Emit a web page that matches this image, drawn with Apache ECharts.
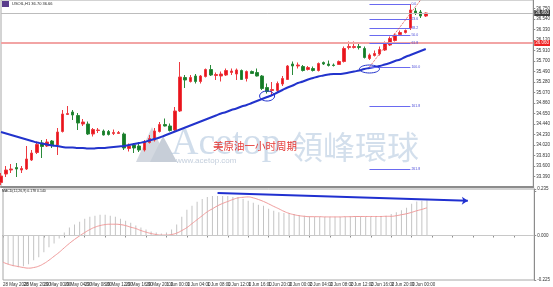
<!DOCTYPE html>
<html><head><meta charset="utf-8">
<script src="https://cdn.jsdelivr.net/npm/echarts@6/dist/echarts.min.js"></script>
<style>html,body{margin:0;padding:0;background:#fff}#c{width:553px;height:287px}</style>
</head><body><div id="c"></div>
<script>
// ---- data ----
const tickLabels = ['28 May 2020','28 May 20:00','29 May 00:00','29 May 04:00','29 May 08:00','29 May 12:00','29 May 16:00','29 May 20:00','1 Jun 00:00','1 Jun 04:00','1 Jun 08:00','1 Jun 12:00','1 Jun 16:00','1 Jun 20:00','2 Jun 00:00','2 Jun 04:00','2 Jun 08:00','2 Jun 12:00','2 Jun 16:00','2 Jun 20:00','3 Jun 00:00'];
const opens = [33.27,33.44,33.52,33.57,33.52,33.54,33.72,33.87,34.06,34.00,
34.10,34.02,34.29,34.63,34.68,34.61,34.44,34.44,34.24,34.31,
34.30,34.29,34.25,34.25,34.24,33.95,34.02,34.00,33.92,34.07,
34.12,34.29,34.43,34.40,34.32,34.70,35.37,35.29,35.40,35.29,
35.39,35.53,35.41,35.40,35.42,35.47,35.44,35.51,35.35,35.49,
35.47,35.40,35.17,35.11,35.11,35.24,35.33,35.64,35.60,35.59,
35.53,35.55,35.51,35.67,35.64,35.62,35.63,35.69,35.97,35.97,
35.99,35.95,35.75,35.81,35.84,35.92,36.02,36.11,36.23,36.27,
36.36,36.70,36.68,36.60];
const closes = [33.40,33.52,33.54,33.54,33.55,33.74,33.86,34.03,33.99,34.08,
34.02,34.28,34.64,34.65,34.62,34.46,34.48,34.24,34.33,34.32,
34.22,34.23,34.27,34.27,33.96,34.00,33.96,33.92,34.08,34.15,
34.30,34.43,34.40,34.31,34.70,35.38,35.32,35.37,35.29,35.40,
35.53,35.42,35.43,35.44,35.51,35.50,35.52,35.33,35.49,35.45,
35.40,35.15,35.09,35.13,35.25,35.35,35.60,35.60,35.62,35.51,
35.57,35.51,35.65,35.64,35.61,35.61,35.69,35.95,35.99,35.99,
35.97,35.77,35.82,35.85,35.93,36.05,36.15,36.22,36.27,36.31,
36.72,36.66,36.60,36.66];
const lows = [33.22,33.38,33.46,33.38,33.46,33.52,33.70,33.84,33.76,33.98,
33.96,33.82,34.27,34.62,34.52,34.32,34.40,34.22,34.19,34.26,
34.21,34.21,34.22,34.24,33.92,33.89,33.86,33.88,33.89,34.05,
34.09,34.27,34.39,34.29,34.30,34.68,35.16,35.27,35.25,35.25,
35.37,35.40,35.32,35.29,35.40,35.42,35.32,35.32,35.29,35.44,
35.39,35.12,35.05,35.02,35.08,35.20,35.32,35.42,35.55,35.49,
35.51,35.49,35.49,35.62,35.59,35.59,35.62,35.67,35.93,35.95,
35.93,35.75,35.72,35.79,35.81,35.90,36.00,36.09,36.20,36.25,
36.32,36.62,36.56,36.58];
const highs = [33.46,33.60,33.64,33.66,33.60,34.00,33.92,34.09,34.12,34.14,
34.12,34.36,34.72,34.80,34.72,34.66,34.54,34.49,34.36,34.36,
34.33,34.32,34.33,34.30,34.27,34.05,34.06,34.08,34.12,34.22,
34.36,34.48,34.55,34.45,34.78,35.68,35.42,35.42,35.44,35.42,
35.55,35.62,35.47,35.49,35.55,35.55,35.55,35.53,35.51,35.51,
35.55,35.42,35.25,35.28,35.29,35.40,35.62,35.69,35.67,35.62,
35.60,35.59,35.67,35.69,35.71,35.65,35.71,35.99,36.09,36.09,
36.05,35.99,35.85,35.91,35.99,36.09,36.19,36.25,36.31,36.33,
36.84,36.76,36.72,36.67];
const maValues = [34.28,34.25,34.22,34.19,34.16,34.13,34.10,34.07,34.05,34.03,
34.01,34.00,33.98,33.97,33.97,33.96,33.96,33.95,33.95,33.96,
33.96,33.97,33.98,33.99,34.00,34.02,34.04,34.06,34.08,34.11,
34.14,34.17,34.21,34.25,34.29,34.33,34.37,34.41,34.45,34.49,
34.53,34.57,34.61,34.65,34.68,34.72,34.75,34.79,34.82,34.86,
34.90,34.94,34.98,35.02,35.07,35.12,35.17,35.21,35.26,35.29,
35.33,35.36,35.39,35.41,35.43,35.44,35.44,35.45,35.47,35.49,
35.51,35.54,35.56,35.58,35.60,35.63,35.66,35.70,35.73,35.78,
35.82,35.86,35.90,35.94];
const macdMain = [-0.135,-0.145,-0.155,-0.160,-0.155,-0.145,-0.125,-0.110,-0.085,-0.060,
-0.040,-0.015,0.015,0.040,0.055,0.070,0.085,0.095,0.100,0.105,
0.105,0.100,0.095,0.085,0.075,0.065,0.050,0.040,0.030,0.020,
0.015,0.010,0.015,0.030,0.055,0.095,0.130,0.150,0.170,0.185,
0.195,0.200,0.200,0.200,0.200,0.195,0.195,0.185,0.175,0.165,
0.155,0.150,0.135,0.125,0.118,0.114,0.112,0.108,0.104,0.100,
0.097,0.095,0.095,0.094,0.093,0.093,0.093,0.095,0.098,0.098,
0.097,0.095,0.094,0.094,0.095,0.100,0.108,0.118,0.128,0.140,
0.160,0.172,0.176,0.178];
const macdSignal = [-0.135,-0.145,-0.152,-0.157,-0.162,-0.165,-0.162,-0.155,-0.142,-0.125,
-0.105,-0.085,-0.062,-0.040,-0.020,-0.002,0.015,0.030,0.042,0.050,
0.055,0.057,0.057,0.055,0.050,0.042,0.035,0.025,0.017,0.010,
0.005,0.002,0.002,0.005,0.012,0.025,0.040,0.060,0.080,0.100,
0.120,0.135,0.150,0.162,0.172,0.182,0.190,0.193,0.195,0.190,
0.182,0.172,0.160,0.147,0.135,0.122,0.112,0.105,0.100,0.097,
0.095,0.095,0.095,0.094,0.094,0.094,0.094,0.095,0.095,0.096,
0.096,0.096,0.096,0.096,0.096,0.097,0.097,0.100,0.105,0.110,
0.117,0.125,0.132,0.140];
const fibRatios = [0, 23.6, 38.2, 50, 61.8, 100, 161.8, 261.8];
const fibHigh = 36.84, fibLow = 35.58;
const fibFromBar = 72, fibToBar = 80, fibTrendEndBar = 82, fibTrendEndPrice = 36.92;
const lastPrice = 36.66, redLevel = 36.06;
const arrowStart = [42, 0.215], arrowEnd = [91, 0.175];
const circles = [[52, 35.00], [72, 35.54]];
const totalSlots = 105; // bars plus empty space to the right

// ---- build ----
const categories = [];
for (let i = 0; i < totalSlots; i++) categories.push(String(i));
const ohlc = opens.map((o, i) => [o, closes[i], lows[i], highs[i]]);
const fibRange = fibHigh - fibLow;
const fibLines = fibRatios.map(r => {
  const p = fibHigh - r / 100 * fibRange;
  return [{coord: [fibFromBar, p]}, {coord: [fibToBar, p], label: {formatter: r.toFixed(1)}}];
});

const FONT = 'Liberation Sans, Arial, sans-serif';
const chart = echarts.init(document.getElementById('c'), null, {renderer: 'canvas'});
const option = {
  animation: false,
  backgroundColor: '#ffffff',
  grid: [
    {left: 1, right: 15, top: 0, height: 187, show: true, borderColor: '#a8a8a8', borderWidth: 1},
    {left: 1, right: 15, top: 189, height: 91, show: true, borderColor: '#a8a8a8', borderWidth: 1}
  ],
  xAxis: [
    {type: 'category', gridIndex: 0, data: categories, boundaryGap: false,
     axisLine: {show: true, lineStyle: {color: '#8c8c8c', width: 2}}, axisTick: {show: false}, axisLabel: {show: false}, splitLine: {show: false}},
    {type: 'category', gridIndex: 1, data: categories, boundaryGap: false,
     axisLine: {show: true, lineStyle: {color: '#8c8c8c'}},
     axisTick: {show: true, interval: 3, length: 2, lineStyle: {color: '#8c8c8c'}},
     axisLabel: {interval: 0, fontSize: 4.5, color: '#333', align: 'left', margin: 2, fontFamily: FONT,
       formatter: (v, idx) => (idx % 4 === 0 && tickLabels[idx / 4]) ? tickLabels[idx / 4] : ''},
     splitLine: {show: false}}
  ],
  yAxis: [
    {type: 'value', gridIndex: 0, position: 'right', min: 33.18, max: 36.92, interval: 0.21,
     axisLine: {show: true, lineStyle: {color: '#8c8c8c'}},
     axisTick: {show: true, length: 2, lineStyle: {color: '#8c8c8c'}},
     axisLabel: {fontSize: 4.5, color: '#333', margin: 3, fontFamily: FONT, showMaxLabel: false, showMinLabel: false,
       formatter: v => v.toFixed(3)},
     splitLine: {show: false}},
    {type: 'value', gridIndex: 1, position: 'right', min: -0.225, max: 0.235, interval: 0.225,
     axisLine: {show: true, lineStyle: {color: '#8c8c8c'}},
     axisTick: {show: true, length: 2, lineStyle: {color: '#8c8c8c'}},
     axisLabel: {fontSize: 4.5, color: '#333', margin: 3, fontFamily: FONT, showMaxLabel: true, showMinLabel: true,
       formatter: v => Math.abs(v - 0.225) < 1e-6 ? '' : v.toFixed(3)},
     splitLine: {show: false}}
  ],
  series: [
    {type: 'candlestick', name: 'USOIL', xAxisIndex: 0, yAxisIndex: 0, data: ohlc, barWidth: 3, z: 3,
     itemStyle: {color: '#e8141c', color0: '#157a26', borderColor: '#ee3a40', borderColor0: '#2a8a3a', borderWidth: 1},
     markLine: {silent: true, symbol: ['none', 'none'], animation: false,
       data: [
         {yAxis: lastPrice, lineStyle: {color: '#bcbcbc', width: 1, type: 'solid'},
          label: {show: true, position: 'end', distance: 1, formatter: lastPrice.toFixed(3), backgroundColor: '#3c3c3c', color: '#fff', fontSize: 4.5, padding: [1, 1, 0, 1], fontFamily: FONT}},
         {yAxis: redLevel, lineStyle: {color: '#f2a4a4', width: 2, type: 'solid'},
          label: {show: true, position: 'end', distance: 1, formatter: redLevel.toFixed(3), backgroundColor: '#ee2222', color: '#fff', fontSize: 4.5, padding: [1, 1, 0, 1], fontFamily: FONT}},
         ...fibLines.map(l => [
           Object.assign({}, l[0], {lineStyle: {color: '#6a6af0', width: 1, type: 'solid'}}),
           Object.assign({}, l[1], {label: {show: true, position: 'end', distance: 1, formatter: l[1].label.formatter, color: '#4848d8', fontSize: 3.5, fontFamily: FONT}})
         ]),
         [{coord: [fibFromBar, fibLow], lineStyle: {color: '#e04848', width: 1, type: 'dotted'}, label: {show: false}},
          {coord: [fibTrendEndBar, fibTrendEndPrice]}]
       ]}},
    {type: 'line', name: 'MA', xAxisIndex: 0, yAxisIndex: 0, data: maValues, symbol: 'none', smooth: true, z: 4,
     lineStyle: {color: '#2233cc', width: 2}},
    {type: 'bar', name: 'MACD', xAxisIndex: 1, yAxisIndex: 1, data: macdMain, barWidth: 1,
     itemStyle: {color: '#c4c4c4'},
     markLine: {silent: true, animation: false, symbol: ['none', 'none'],
       data: [
         {yAxis: 0, lineStyle: {color: '#c8c8c8', width: 1, type: 'solid'}, label: {show: false}},
         [{coord: arrowStart, symbol: 'none', lineStyle: {color: '#2030d0', width: 2, type: 'solid'}, label: {show: false}},
          {coord: arrowEnd, symbol: 'arrow', symbolSize: 6}]
       ]}},
    {type: 'line', name: 'Signal', xAxisIndex: 1, yAxisIndex: 1, data: macdSignal, symbol: 'none', smooth: true,
     lineStyle: {color: '#f09a9a', width: 1}}
  ],
  graphic: [
    // watermark logo
    {type: 'polygon', id: 'logo1', z: 0, shape: {points: [[136, 162], [152, 127], [168, 162]]}, style: {fill: '#d3d8e0'}},
    {type: 'polygon', id: 'logo2', z: 0, shape: {points: [[150, 162], [163, 136], [177, 162]]}, style: {fill: '#c7ced8'}},
    {type: 'text', id: 'wm1', z: 0, style: {x: 171, y: 144, text: 'Acetop', fontFamily: 'Liberation Serif, DejaVu Serif, serif', fontSize: 38, fill: 'rgba(176,198,222,0.6)', verticalAlign: 'middle'}},
    {type: 'text', id: 'wm2', z: 0, style: {x: 291, y: 147, text: '領峰環球', fontFamily: 'Noto Sans CJK TC', fontSize: 32, fill: 'rgba(182,202,224,0.6)', verticalAlign: 'middle'}},
    {type: 'text', id: 'wm3', z: 0, style: {x: 176, y: 161, text: 'www.acetop.com', fontFamily: FONT, fontSize: 8, fill: 'rgba(170,185,205,0.7)', verticalAlign: 'middle', letterSpacing: 1.6}},
    // annotation
    {type: 'text', id: 'note', z: 10, style: {x: 213, y: 146, text: '美原油一小时周期', fontFamily: 'Noto Sans CJK SC', fontSize: 10.5, fill: '#e53935', verticalAlign: 'middle'}},
    // header
    {type: 'rect', id: 'icon', z: 10, shape: {x: 2, y: 1, width: 7, height: 6}, style: {fill: '#5a3c8c'}},
    {type: 'text', id: 'hdr', z: 10, style: {x: 12, y: 4, text: 'USOIL,H1 36.70 36.66', fontFamily: FONT, fontSize: 4, fill: '#222', verticalAlign: 'middle'}},
    {type: 'text', id: 'macdlbl', z: 10, style: {x: 2, y: 191.5, text: 'MACD(12,26,9) 0.178 0.140', fontFamily: FONT, fontSize: 3.5, fill: '#222', verticalAlign: 'middle'}}
  ]
};
chart.setOption(option);
const rx = [7.5, 10], ry = [5, 4];
const ellipses = circles.map((c, k) => {
  const p = chart.convertToPixel({gridIndex: 0}, c);
  return {type: 'ellipse', id: 'ell' + k, z: 10, shape: {cx: p[0], cy: p[1], rx: rx[k], ry: ry[k]}, style: {fill: 'none', stroke: '#2233cc', lineWidth: 1}};
});
chart.setOption({graphic: ellipses});
</script>
</body></html>
